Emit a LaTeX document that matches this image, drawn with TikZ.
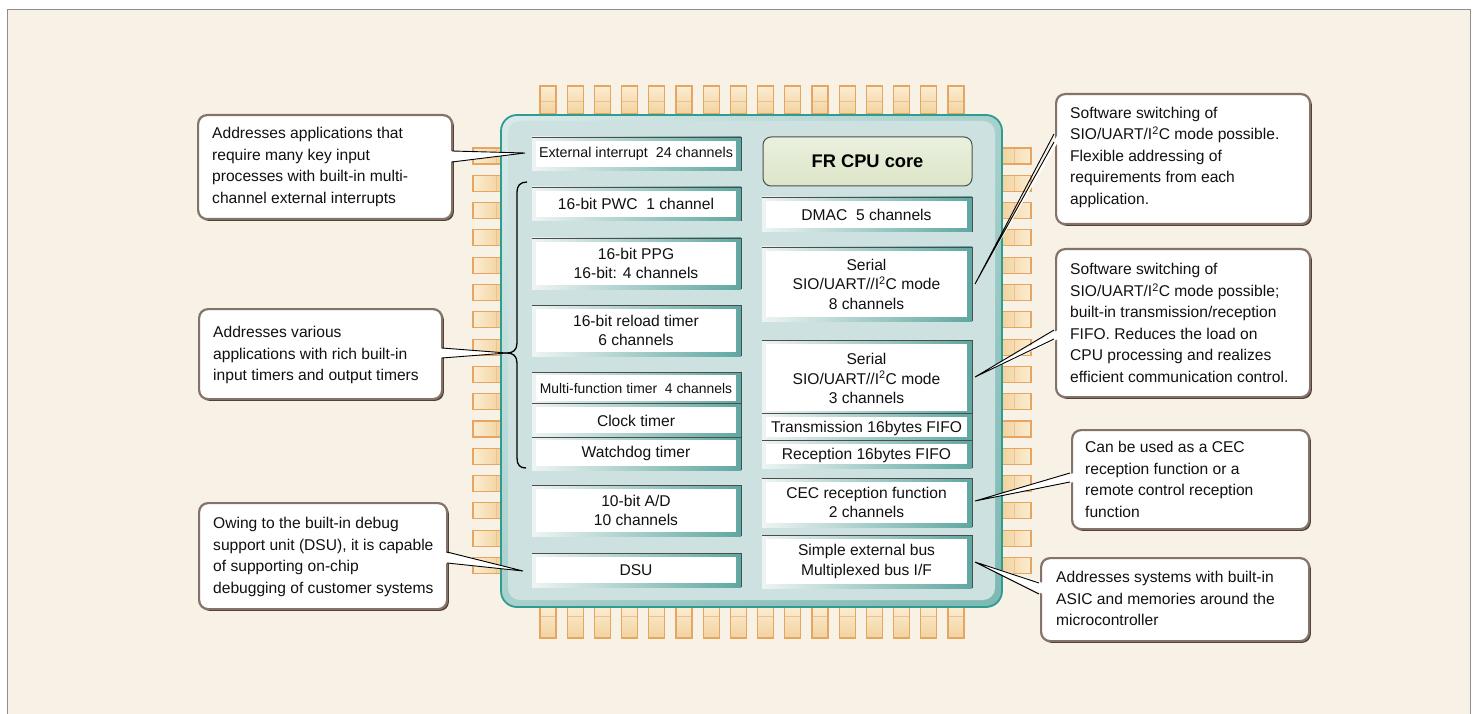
\documentclass[tikz,border=0pt]{standalone}
\usepackage{fontspec}
\setmainfont{Liberation Sans}
\usetikzlibrary{calc,shadows,shadings}
\definecolor{cream}{HTML}{F7F2E5}
\definecolor{framegray}{HTML}{8E8E8E}
\definecolor{chipface}{HTML}{CDE1E1}
\definecolor{chipedge}{HTML}{2E9C91}
\definecolor{chipUL}{HTML}{D9EBEA}
\definecolor{chipLR}{HTML}{7DB8B2}
\definecolor{chipMid}{HTML}{A9D0CC}
\definecolor{frameL}{HTML}{EEF4F3}
\definecolor{frameR}{HTML}{5EA7A0}
\definecolor{edgegray}{HTML}{4D4D4D}
\definecolor{pinfill}{HTML}{F2D29E}
\definecolor{pinlight}{HTML}{FBEDD2}
\definecolor{pinborder}{HTML}{E6A662}
\definecolor{cobord}{HTML}{857369}
\definecolor{coshadow}{HTML}{4B3C33}
\definecolor{cputop}{HTML}{EAF0DE}
\definecolor{cpubot}{HTML}{DCE5C8}
\definecolor{textcol}{HTML}{111111}

\newcommand{\cofont}{\fontsize{15.6}{21.5}\selectfont}
\newcommand{\bxfont}{\fontsize{15.6}{19.5}\selectfont}

\tikzset{
 pinbox/.style={draw=pinborder, line width=1.1pt},
 pinrule/.style={draw=pinborder!70, line width=0.6pt},
 callout/.style={rectangle, rounded corners=9pt, draw=cobord, line width=2.2pt, fill=white,
   drop shadow={shadow xshift=1.8pt, shadow yshift=-1.8pt, fill=coshadow, opacity=1},
   inner sep=0pt, anchor=north west},
 cotext/.style={align=left, font=\cofont, anchor=west, inner sep=0pt, text=textcol},
 boxtext/.style={align=center, font=\bxfont, inner sep=0pt, text=textcol},
 cwedge/.style={draw=black, line width=0.9pt, line join=miter},
 sepline/.style={draw=edgegray, line width=0.9pt},
}

\newcommand{\chipbox}[6]{%
 \shade[left color=frameL, right color=frameR] (#2,#3) rectangle (#4,#5);
 \fill[white] (#2+4,#3+4) rectangle (#4-5,#5-4);
 \draw[sepline] (#2,#3) -- (#4,#3) -- (#4,#5);
 \node[boxtext] (#1) at ({(#2+#4)/2-0.5},{(#3+#5)/2}) {#6};
}
\newcommand{\calloutwedge}[4]{%
 \fill[white] ($(#2)+(#4,0)$) -- (#1) -- ($(#3)+(#4,0)$) -- cycle;
 \draw[cwedge] (#2) -- (#1) -- (#3);
}

\begin{document}
\begin{tikzpicture}[x=1pt,y=-1pt]
\useasboundingbox (0,0) rectangle (1478,714);
\fill[white] (0,0) rectangle (1478,714);
\draw[fill=cream, draw=framegray, line width=1pt] (7,10) rectangle (1470,760);

% pins
\foreach \i in {0,...,15}{
  \pgfmathsetmacro{\px}{540+27.2*\i}
  \shade[top color=pinlight, bottom color=pinfill] (\px,86) rectangle (\px+16,114);
  \draw[pinrule] (\px,101) -- (\px+16,101);
  \draw[pinbox] (\px,86) rectangle (\px+16,114);
  \shade[top color=pinlight, bottom color=pinfill] (\px,607) rectangle (\px+16,638);
  \draw[pinrule] (\px,616) -- (\px+16,616);
  \draw[pinbox] (\px,607) rectangle (\px+16,638);
  \pgfmathsetmacro{\py}{148+27.3*\i}
  \shade[left color=pinlight, right color=pinfill] (473,\py) rectangle (501,\py+16);
  \draw[pinrule] (496,\py) -- (496,\py+16);
  \draw[pinbox] (473,\py) rectangle (501,\py+16);
  \shade[left color=pinfill, right color=pinlight] (1002,\py) rectangle (1031,\py+16);
  \draw[pinrule] (1014,\py) -- (1014,\py+16);
  \draw[pinbox] (1002,\py) rectangle (1031,\py+16);
}

% chip body
\shade[rounded corners=16pt, upper left=chipUL, upper right=chipMid, lower left=chipMid, lower right=chipLR] (501,115) rectangle (1002,607);
\fill[chipface, rounded corners=12pt] (508,121) rectangle (995,600);
\draw[chipedge, line width=1.8pt, rounded corners=16pt] (501,115) rectangle (1002,607);

% left column
\chipbox{ext}{532}{137}{741}{171}{\fontsize{14.3}{17}\selectfont External interrupt~~24 channels}
\chipbox{pwc}{532}{187}{741}{221}{16-bit PWC~~1 channel}
\chipbox{ppg}{532}{238}{741}{289}{16-bit PPG\\16-bit: 4 channels}
\chipbox{reload}{532}{305}{741}{356}{16-bit reload timer\\6 channels}
% timer group
\shade[left color=frameL, right color=frameR] (532,372) rectangle (741,470);
\fill[white] (536,375) rectangle (736,400.5);
\fill[white] (536,407) rectangle (736,433);
\fill[white] (536,440) rectangle (736,466);
\draw[sepline] (532,372) -- (741,372) -- (741,470);
\draw[sepline] (532,403.5) -- (741,403.5);
\draw[sepline] (532,437) -- (741,437);
\node[boxtext, font=\fontsize{13.9}{16}\selectfont] (mft) at (636,388.5) {Multi-function timer~~4 channels};
\node[boxtext] (clk) at (636,420.5) {Clock timer};
\node[boxtext] (wdt) at (636,453.5) {Watchdog timer};
\chipbox{ad}{532}{485}{741}{536}{10-bit A/D\\10 channels}
\chipbox{dsu}{532}{553}{741}{587}{DSU}

% right column
\node[draw=edgegray, line width=1pt, rounded corners=8pt, top color=cputop, bottom color=cpubot,
  minimum width=209pt, minimum height=49pt, inner sep=0pt, text=black,
  font=\fontsize{18.3}{20}\selectfont\bfseries] (cpu) at (867.5,161.5) {FR CPU core};
\chipbox{dmac}{762}{197}{972}{232}{DMAC~~5 channels}
\chipbox{ser8}{762}{247}{972}{321}{Serial\\SIO/UART//I\textsuperscript{2}C mode\\8 channels}
% serial group
\shade[left color=frameL, right color=frameR] (762,340) rectangle (972,468);
\fill[white] (766,344) rectangle (967,410.5);
\fill[white] (766,417) rectangle (967,436.5);
\fill[white] (766,444) rectangle (967,464);
\draw[sepline] (762,340) -- (972,340) -- (972,468);
\draw[sepline] (762,413.5) -- (972,413.5);
\draw[sepline] (762,440.5) -- (972,440.5);
\node[boxtext] (ser3) at (866.5,378.5) {Serial\\SIO/UART//I\textsuperscript{2}C mode\\3 channels};
\node[boxtext] (trx) at (866.5,428) {Transmission 16bytes FIFO};
\node[boxtext] (rcx) at (866.5,455) {Reception 16bytes FIFO};
\chipbox{cec}{762}{478}{972}{527}{CEC reception function\\2 channels}
\chipbox{bus}{762}{535}{972}{588}{Simple external bus\\Multiplexed bus I/F}

% brace
\draw[line width=1.3pt] (527,182) .. controls (520,182) and (517,186) .. (517,192) -- (517,343)
  .. controls (517,350) and (513,353) .. (507,353)
  .. controls (513,353) and (517,356) .. (517,363) -- (517,458)
  .. controls (517,465) and (520,468) .. (526,468);

% callouts
\node[callout, minimum width=254pt, minimum height=104pt] (c1) at (197,114) {};
\node[cotext] (c1t) at ($(c1.west)+(15,0)$)
 {Addresses applications that\\require many key input\\processes with built-in multi-\\channel external interrupts};
\node[callout, minimum width=243pt, minimum height=90pt] (c2) at (198,308) {};
\node[cotext] (c2t) at ($(c2.west)+(15,1)$)
 {Addresses various\\applications with rich built-in\\input timers and output timers};
\node[callout, minimum width=248pt, minimum height=106pt] (c3) at (198,502) {};
\node[cotext] (c3t) at ($(c3.west)+(15,1)$)
 {Owing to the built-in debug\\support unit (DSU), it is capable\\of supporting on-chip\\debugging of customer systems};
\node[callout, minimum width=254pt, minimum height=130pt] (c4) at (1055,93) {};
\node[cotext] (c4t) at ($(c4.west)+(15,-2)$)
 {Software switching of\\SIO/UART/I\textsuperscript{2}C mode possible.\\Flexible addressing of\\requirements from each\\application.};
\node[callout, minimum width=254pt, minimum height=148pt] (c5) at (1055,248) {};
\node[cotext] (c5t) at ($(c5.west)+(15,0)$)
 {Software switching of\\SIO/UART/I\textsuperscript{2}C mode possible;\\built-in transmission/reception\\FIFO. Reduces the load on\\CPU processing and realizes\\efficient communication control.};
\node[callout, minimum width=237pt, minimum height=99pt] (c6) at (1071,429) {};
\node[cotext] (c6t) at ($(c6.west)+(14,0)$)
 {Can be used as a CEC\\reception function or a\\remote control reception\\function};
\node[callout, minimum width=268pt, minimum height=83pt] (c7) at (1040,557) {};
\node[cotext] (c7t) at ($(c7.west)+(16,-1)$)
 {Addresses systems with built-in\\ASIC and memories around the\\microcontroller};

% wedge connectors
\coordinate (t1) at (525,153); \coordinate (a1) at (452,151); \coordinate (b1) at (452,162);
\coordinate (t2) at (507,353); \coordinate (a2) at (442,348); \coordinate (b2) at (442,358);
\coordinate (t3) at (523,571); \coordinate (a3) at (447,552); \coordinate (b3) at (447,563);
\coordinate (t4) at (975,284); \coordinate (a4) at (1054,134); \coordinate (b4) at (1054,142);
\coordinate (t5) at (975,377); \coordinate (a5) at (1054,330); \coordinate (b5) at (1054,339);
\coordinate (t6) at (975,501); \coordinate (a6) at (1070,473); \coordinate (b6) at (1070,482);
\coordinate (t7) at (975,562); \coordinate (a7) at (1039,583); \coordinate (b7) at (1039,594);
\calloutwedge{t1}{a1}{b1}{-4}
\calloutwedge{t2}{a2}{b2}{-4}
\calloutwedge{t3}{a3}{b3}{-4}
\calloutwedge{t4}{a4}{b4}{4}
\calloutwedge{t5}{a5}{b5}{4}
\calloutwedge{t6}{a6}{b6}{4}
\calloutwedge{t7}{a7}{b7}{4}
\end{tikzpicture}
\end{document}
